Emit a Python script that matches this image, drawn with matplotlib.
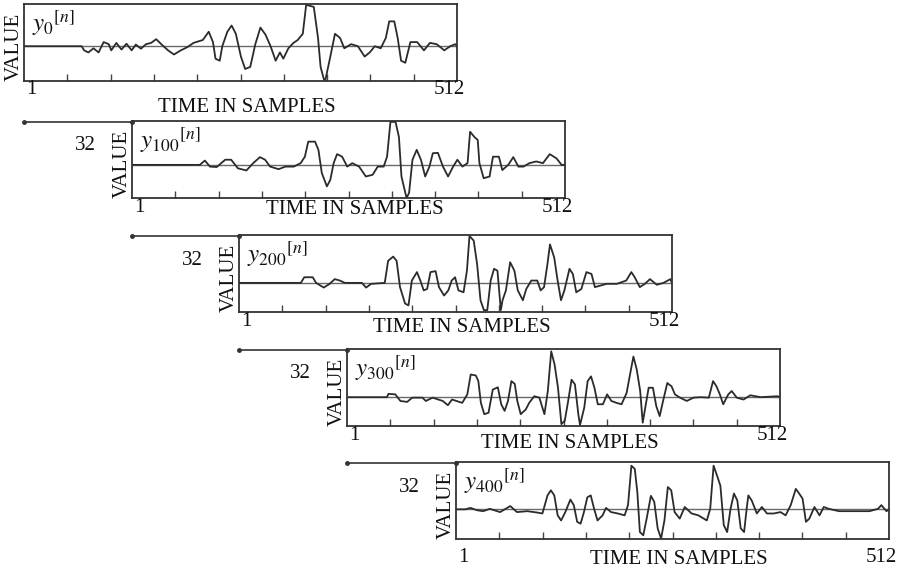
import matplotlib
matplotlib.use("Agg")
import matplotlib.pyplot as plt
from matplotlib.lines import Line2D

# ---- data (sample index, value) ----
y0_n = [1, 69, 72, 77, 83, 89, 95, 101, 104, 110, 116, 122, 128, 133, 139, 145, 151, 157, 163, 171,
        178, 186, 194, 201, 212, 219, 224, 227, 232, 235, 241, 246, 251, 257, 262, 268, 274, 280, 286, 292,
        298, 303, 307, 313, 319, 324, 330, 334, 343, 348, 351, 356, 362, 368, 374, 379, 387, 395, 403, 409,
        415, 422, 428, 432, 438, 442, 446, 451, 457, 465, 473, 480, 488, 497, 504, 510, 512]
y0_v = [0, 0, -0.1, -0.15, -0.05, -0.15, 0.1, 0.05, -0.1, 0.08, -0.08, 0.06, -0.1, 0.04, -0.06, 0.05, 0.08, 0.17, 0.05, -0.1,
        -0.2, -0.1, -0.02, 0.08, 0.15, 0.35, 0.1, -0.3, -0.35, 0.0, 0.35, 0.5, 0.3, -0.25, -0.55, -0.5, 0.05, 0.45, 0.28, 0.0,
        -0.35, -0.15, -0.3, -0.05, 0.08, 0.15, 0.3, 1.0, 0.95, 0.2, -0.5, -0.88, -0.3, 0.3, 0.2, -0.05, 0.05, 0.0, -0.25, -0.15,
        0.0, -0.05, 0.2, 0.6, 0.6, 0.2, -0.35, -0.4, 0.1, 0.1, -0.1, 0.08, 0.05, -0.1, 0.0, 0.05, 0.0]

y100_n = [1, 81, 87, 93, 101, 111, 118, 126, 136, 144, 152, 158, 164, 174, 182, 192, 200, 205, 209, 217,
          221, 225, 231, 235, 239, 243, 249, 255, 261, 269, 277, 285, 291, 298, 302, 306, 312, 316, 319, 325,
          328, 332, 337, 342, 347, 352, 356, 362, 368, 374, 380, 385, 391, 397, 400, 405, 409, 411, 416, 423,
          427, 434, 438, 445, 451, 457, 463, 470, 478, 486, 494, 502, 508, 512]
y100_v = [0, 0, 0.1, -0.04, -0.05, 0.12, 0.12, -0.08, -0.13, 0.04, 0.18, 0.12, -0.04, -0.1, -0.04, -0.04, 0.04, 0.19, 0.54, 0.54,
          0.35, -0.19, -0.5, -0.35, 0.04, 0.25, 0.19, -0.04, 0.04, -0.04, -0.27, -0.23, -0.04, -0.04, 0.19, 1.0, 1.0, 0.65, -0.27, -0.77,
          -0.65, 0.12, 0.35, 0.12, -0.27, -0.04, 0.27, 0.28, -0.04, -0.27, -0.04, 0.12, -0.04, 0.04, 0.77, 0.65, 0.58, 0.04, -0.31, -0.27,
          0.19, 0.19, -0.12, 0.0, 0.18, -0.04, -0.04, 0.04, 0.08, 0.04, 0.25, 0.15, 0.0, 0.0]

y200_n = [1, 74, 78, 88, 92, 101, 108, 114, 120, 126, 146, 151, 157, 173, 177, 183, 187, 191, 197, 201,
          205, 211, 215, 219, 223, 227, 233, 237, 243, 248, 252, 256, 260, 266, 270, 273, 278, 282, 286, 290,
          294, 298, 302, 306, 310, 312, 316, 321, 326, 330, 336, 340, 346, 353, 357, 361, 365, 368, 373, 377,
          381, 385, 391, 395, 399, 405, 411, 417, 421, 427, 435, 447, 458, 464, 468, 474, 480, 486, 494, 502,
          510, 512]
y200_v = [0, 0, 0.12, 0.12, 0, -0.1, -0.02, 0.08, 0.05, 0, 0, -0.1, -0.02, 0, 0.47, 0.56, 0.47, -0.09, -0.44, -0.48,
          0.05, 0.23, 0.05, -0.16, -0.13, 0.23, 0.25, -0.09, -0.27, -0.16, 0.05, 0.12, -0.16, -0.2, 0.26, 1.0, 0.9, 0.4, -0.37, -0.58,
          -0.58, 0.05, 0.3, 0.26, -0.58, -0.37, -0.16, 0.44, 0.26, -0.16, -0.37, -0.13, 0.05, 0.05, -0.16, -0.09, 0.4, 0.82, 0.54, 0.05,
          -0.37, -0.16, 0.3, 0.19, -0.2, -0.13, 0.23, 0.19, -0.09, -0.06, -0.02, -0.02, 0.05, 0.23, 0.12, -0.09, -0.02, 0.08, -0.04, 0,
          0.08, 0]

y300_n = [1, 48, 50, 58, 64, 72, 78, 90, 94, 102, 114, 120, 125, 137, 143, 147, 153, 156, 159, 163,
          168, 173, 179, 183, 187, 191, 195, 199, 202, 206, 212, 216, 222, 228, 234, 238, 242, 246, 250, 254,
          258, 262, 266, 270, 274, 276, 281, 285, 289, 293, 297, 303, 308, 313, 319, 325, 331, 335, 339, 343,
          347, 350, 353, 357, 362, 366, 370, 374, 379, 384, 388, 394, 402, 410, 418, 428, 433, 437, 441, 445,
          451, 455, 461, 469, 477, 489, 509, 512]
y300_v = [0, 0, 0.07, 0.06, -0.08, -0.1, -0.01, -0.01, -0.08, -0.01, -0.08, -0.17, -0.05, -0.12, 0.06, 0.48, 0.46, 0.34, -0.12, -0.36,
          -0.33, 0.16, 0.21, -0.15, -0.29, -0.08, 0.34, 0.28, -0.08, -0.36, -0.26, -0.12, 0.02, -0.01, -0.36, 0.13, 0.97, 0.69, 0.2, -0.57,
          -0.5, -0.08, 0.37, 0.27, -0.36, -0.59, -0.22, 0.34, 0.44, 0.2, -0.15, -0.15, 0.06, -0.08, -0.12, -0.15, 0.09, 0.48, 0.86, 0.58,
          0.13, -0.54, -0.22, 0.2, 0.2, -0.19, -0.4, -0.08, 0.3, 0.23, 0.06, -0.01, -0.08, -0.01, 0, -0.01, 0.34, 0.23, 0.06, -0.15,
          0.06, 0.13, -0.01, -0.05, 0.04, 0, 0.02, 0]

y400_n = [1, 12, 18, 26, 33, 41, 53, 65, 73, 85, 97, 103, 109, 113, 117, 121, 125, 130, 136, 140,
          144, 148, 152, 156, 160, 164, 168, 174, 178, 184, 192, 200, 204, 208, 212, 215, 218, 222, 226, 231,
          235, 239, 243, 247, 251, 255, 259, 265, 271, 279, 287, 297, 301, 305, 309, 313, 317, 321, 325, 329,
          333, 337, 341, 344, 346, 350, 356, 362, 368, 376, 384, 390, 396, 402, 406, 410, 414, 418, 424, 430,
          435, 441, 453, 469, 489, 499, 503, 509, 512]
y400_v = [0, 0, 0.03, -0.02, -0.04, 0.01, -0.06, 0.07, -0.06, -0.04, -0.07, -0.09, 0.3, 0.41, 0.3, -0.13, -0.24, -0.06, 0.21, 0.09,
          -0.27, -0.31, -0.06, 0.26, 0.3, 0.01, -0.24, -0.13, 0.03, -0.06, -0.09, -0.13, 0.09, 0.94, 0.87, 0.37, -0.49, -0.56, -0.2, 0.29,
          0.16, -0.41, -0.63, -0.24, 0.48, 0.41, -0.06, -0.2, 0.05, -0.09, -0.13, -0.24, 0.01, 0.94, 0.73, 0.51, -0.34, -0.49, 0.01, 0.34,
          0.19, -0.41, -0.49, 0.01, 0.3, 0.19, -0.09, 0.05, -0.09, -0.09, -0.06, -0.13, 0.09, 0.44, 0.34, 0.23, -0.27, -0.2, 0.05, -0.13,
          0.05, 0.01, -0.04, -0.04, -0.04, 0.01, 0.09, -0.04, 0]

signal_labels = [r"${y_{0}}^{[n]}$", r"${y_{100}}^{[n]}$", r"${y_{200}}^{[n]}$",
                 r"${y_{300}}^{[n]}$", r"${y_{400}}^{[n]}$"]
shift_label = "32"
x_label = "TIME IN SAMPLES"
y_label = "VALUE"
n_first, n_last = 1, 512

# ---- layout (pixels of a 905x574 canvas) ----
W, H = 905, 574
lefts = [24, 132, 239, 347, 456]
tops = [4, 121, 235, 349, 462]
box_w, box_h = 433, 77
y_lows = [-0.84, -0.77, -0.62, -0.61, -0.64]
lbl_drop = [9, 9, 10, 9, 18]        # "1"/"512" below the box
title_drop = [27, 12, 16, 17, 21]   # TIME IN SAMPLES below the box

plt.rcParams["font.family"] = ["Liberation Serif", "DejaVu Serif"]
plt.rcParams["mathtext.fontset"] = "stix"

INK = "#2b2b2b"
TXT = "#111111"


def fx(x):
    return x / W


def fy(y):
    return 1 - y / H


fig = plt.figure(figsize=(W / 100, H / 100), dpi=100)

series = [(y0_n, y0_v), (y100_n, y100_v), (y200_n, y200_v), (y300_n, y300_v), (y400_n, y400_v)]
for i, (n, v) in enumerate(series):
    L, T = lefts[i], tops[i]
    B = T + box_h
    ax = fig.add_axes([fx(L), fy(B), box_w / W, box_h / H])
    ax.axhline(0, color="#6a6a6a", lw=1.0, zorder=1)
    ax.plot(n, v, color=INK, lw=1.3, zorder=2)
    ax.set_xlim(n_first, n_last)
    ax.set_ylim(y_lows[i], 1.02)
    step = (n_last - n_first) / 10
    ax.set_xticks([n_first + k * step for k in range(1, 10)])
    ax.set_xticklabels([])
    ax.set_yticks([])
    ax.tick_params(axis="x", direction="in", length=5, width=1.0, color="#444444", top=False)
    for sp in ax.spines.values():
        sp.set_color("#333333")
        sp.set_linewidth(1.3)

    ax.text(8 / box_w, 1 - 4 / box_h, signal_labels[i], transform=ax.transAxes,
            ha="left", va="top", fontsize=18, color=TXT)

    fig.text(fx(L - 10), fy(B), y_label, rotation=90, ha="center", va="bottom",
             fontsize=15, color=TXT)
    fig.text(fx(L + 2), fy(B + lbl_drop[i]), str(n_first), ha="left", va="center",
             fontsize=15, color=TXT)
    fig.text(fx(L + box_w + 8), fy(B + lbl_drop[i]), str(n_last), ha="right", va="center",
             fontsize=15, color=TXT)
    fig.text(fx(L + box_w / 2 + 6), fy(B + title_drop[i]), x_label, ha="center", va="center",
             fontsize=15, color=TXT)

    if i > 0:
        x0, x1 = lefts[i - 1], L
        fig.add_artist(Line2D([fx(x0), fx(x1)], [fy(T + 1), fy(T + 1)], transform=fig.transFigure,
                              color="#333333", lw=1.2, marker="o", markersize=2.5))
        fig.text(fx(L - 47), fy(T + 25), shift_label, ha="center", va="center",
                 fontsize=15, color=TXT)

fig.savefig("out.png", dpi=100)
